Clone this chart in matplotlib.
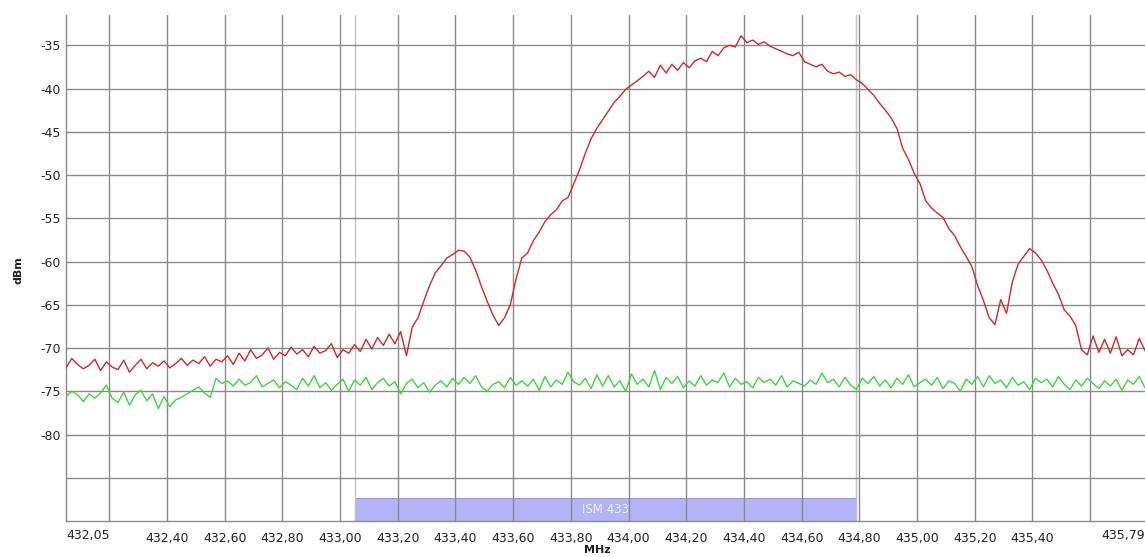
import numpy as np
import matplotlib
matplotlib.use("Agg")
import matplotlib.pyplot as plt
from matplotlib.patches import Rectangle

# ---------------- data ----------------
f_start = 432.05
f_step = 0.02

red_dbm = [
    -72.3, -71.2, -71.9, -72.4, -72.0, -71.3, -72.6, -71.6, -72.2, -72.5,
    -71.4, -72.8, -72.0, -71.3, -72.4, -71.7, -72.1, -71.5, -72.3, -71.8,
    -71.2, -72.0, -71.4, -71.8, -71.0, -72.1, -71.3, -71.6, -70.9, -71.9,
    -70.6, -71.5, -70.2, -71.2, -70.8, -70.0, -71.3, -70.5, -70.9, -69.9,
    -70.7, -70.2, -71.0, -69.8, -70.6, -70.3, -69.5, -71.1, -70.2, -70.6,
    -69.6, -70.4, -69.0, -70.1, -68.8, -69.7, -68.4, -69.5, -68.1, -70.9,
    -67.6, -66.5, -64.6, -62.8, -61.3, -60.5, -59.6, -59.2, -58.7, -58.8,
    -59.5, -61.0, -62.9, -64.6, -66.2, -67.4, -66.5, -65.0, -62.0, -59.6,
    -59.0, -57.6, -56.6, -55.4, -54.6, -54.0, -53.0, -52.6, -51.0, -49.4,
    -47.5, -45.8, -44.6, -43.6, -42.6, -41.6, -40.9, -40.1, -39.6, -39.1,
    -38.6, -38.0, -38.7, -37.3, -38.2, -37.2, -37.9, -37.0, -37.6, -36.8,
    -36.5, -36.9, -35.7, -36.2, -35.3, -35.0, -35.2, -33.9, -34.7, -34.4,
    -34.9, -34.6, -35.1, -35.4, -35.7, -36.0, -36.2, -35.8, -36.9, -37.2,
    -37.5, -37.2, -38.0, -38.3, -38.1, -38.6, -38.4, -39.0, -39.4, -40.1,
    -40.8, -41.7, -42.5, -43.4, -44.6, -46.9, -48.2, -49.8, -51.0, -53.0,
    -53.8, -54.4, -54.9, -56.2, -57.0, -58.3, -59.4, -60.6, -62.8, -64.5,
    -66.5, -67.3, -64.4, -66.0, -62.4, -60.3, -59.4, -58.5, -59.0, -59.8,
    -61.0, -62.5, -63.8, -65.6, -66.3, -67.4, -70.2, -70.8, -68.6, -70.5,
    -69.0, -70.6, -68.7, -70.9, -70.2, -70.8, -68.9, -70.3,
]

green_dbm = [
    -75.6, -75.0, -75.4, -76.2, -75.3, -75.8, -75.2, -74.3, -75.8, -76.3,
    -75.1, -76.6, -75.4, -74.9, -76.1, -75.3, -77.0, -75.6, -76.8, -76.0,
    -75.7, -75.3, -74.9, -74.5, -75.2, -75.7, -73.5, -74.1, -73.8, -74.4,
    -73.6, -74.3, -74.0, -73.2, -74.5, -74.1, -73.7, -74.6, -73.9, -74.3,
    -74.8, -73.5, -74.4, -73.2, -74.6, -74.0, -74.9, -74.2, -73.6, -75.0,
    -73.7, -74.3, -73.4, -74.8, -74.0, -73.5, -74.4, -73.9, -75.3, -74.1,
    -73.6, -74.6, -74.0, -75.1, -74.3, -73.8, -74.5, -73.5, -74.2, -73.4,
    -74.1, -73.2, -74.5, -75.0, -74.2, -73.9, -74.6, -73.4, -74.3, -73.8,
    -74.4, -73.6, -74.9, -73.3, -74.5, -73.7, -74.2, -72.8, -73.9, -74.3,
    -73.5, -74.7, -73.1, -74.4, -73.2, -74.5, -73.8, -75.0, -73.0, -74.2,
    -73.6, -74.5, -72.6, -74.8, -73.4, -74.1, -73.3, -74.6, -73.8, -74.4,
    -73.2, -74.3, -73.7, -74.0, -72.9, -74.5, -73.5, -74.2, -73.9, -74.6,
    -73.4, -74.0, -73.6, -74.3, -73.2, -74.5, -73.8, -74.1, -74.4, -73.7,
    -74.2, -72.9, -74.0, -73.6, -74.5, -73.4, -74.3, -74.8, -73.5, -74.1,
    -73.3, -74.4, -73.7, -74.6, -73.5, -74.2, -73.1, -74.5, -74.0, -73.6,
    -74.3, -73.4, -74.7, -73.8, -74.1, -75.0, -73.6, -74.2, -73.3, -74.5,
    -73.2, -74.1, -73.7, -74.6, -73.4, -74.3, -73.9, -74.8, -73.5, -74.0,
    -73.6, -74.5, -73.3, -74.2, -74.8, -73.7, -74.4, -73.5, -74.1, -74.7,
    -73.8, -74.4, -73.6, -74.9, -73.7, -74.2, -73.3, -74.6,
]

x_min, x_max = 432.05, 435.79
grid_ticks = [432.20, 432.40, 432.60, 432.80, 433.00, 433.20, 433.40, 433.60,
              433.80, 434.00, 434.20, 434.40, 434.60, 434.80, 435.00, 435.20,
              435.40, 435.60]
grid_labels = ["", "432,40", "432,60", "432,80", "433,00", "433,20", "433,40",
               "433,60", "433,80", "434,00", "434,20", "434,40", "434,60",
               "434,80", "435,00", "435,20", "435,40", ""]
edge_labels = ["432,05", "435,79"]
y_ticks = [-85, -80, -75, -70, -65, -60, -55, -50, -45, -40, -35]
y_labels = ["", "-80", "-75", "-70", "-65", "-60", "-55", "-50", "-45", "-40", "-35"]

band_name = "ISM 433"
band_start, band_end = 433.05, 434.79

# ---------------- figure ----------------
W, H = 1145, 557
fig = plt.figure(figsize=(W / 100, H / 100), dpi=100)
ax_left, ax_right, ax_top, ax_bottom = 66, 1145, 15, 521
ax = fig.add_axes([ax_left / W, 1 - ax_bottom / H,
                   (ax_right - ax_left) / W, (ax_bottom - ax_top) / H])

freqs = f_start + f_step * np.arange(len(red_dbm))
ax.plot(freqs, red_dbm, color="#cc2a2a", lw=1.0, zorder=3)
ax.plot(freqs, green_dbm, color="#3ed43e", lw=1.0, zorder=3)

ax.set_xlim(x_min, x_max)
ax.set_ylim(-90, -31.5)

ax.set_xticks(grid_ticks)
ax.set_xticklabels(grid_labels, fontsize=9, color="#222222")
ax.set_yticks(y_ticks)
ax.set_yticklabels(y_labels, fontsize=9, color="#222222")
ax.tick_params(axis="both", length=0)
ax.tick_params(axis="x", pad=8)
ax.tick_params(axis="y", pad=4)

ax.set_axisbelow(True)
ax.grid(True, color="#8a8a8a", lw=1.0)

for s in ["top", "right"]:
    ax.spines[s].set_visible(False)
for s in ["left", "bottom"]:
    ax.spines[s].set_color("#8a8a8a")
    ax.spines[s].set_linewidth(1.0)

# edge labels
ax.text(x_min, -0.0, edge_labels[0], transform=ax.get_xaxis_transform(),
        ha="left", va="top", fontsize=9, color="#222222")
ax.text(x_max, -0.0, edge_labels[1], transform=ax.get_xaxis_transform(),
        ha="right", va="top", fontsize=9, color="#222222")
for t in ax.texts:
    t.set_y(-8.5 / (ax_bottom - ax_top) - 0.0)

# ISM band
tr = ax.get_xaxis_transform()
ax.add_patch(Rectangle((band_start, 0), band_end - band_start,
                       (ax_bottom - 498) / (ax_bottom - ax_top),
                       transform=tr, facecolor="#b4b4f6", edgecolor="#9a9ad8",
                       lw=0.8, zorder=0.2))
ax.text((band_start + band_end) / 2, (ax_bottom - 509.5) / (ax_bottom - ax_top),
        band_name, transform=tr, ha="center", va="center", fontsize=8.5,
        color="#eeeeff", zorder=4)
for bx in (band_start, band_end):
    ax.axvline(bx, color="#c4c4c4", lw=1.0, zorder=0.3)

fig.text(18 / W, 1 - 270 / H, "dBm", rotation=90, ha="center", va="center",
         fontsize=8, fontweight="bold", color="#222222")
fig.text(597 / W, 1 - 550 / H, "MHz", ha="center", va="center",
         fontsize=8, fontweight="bold", color="#222222")

fig.savefig("out.png", dpi=100, facecolor="white")
